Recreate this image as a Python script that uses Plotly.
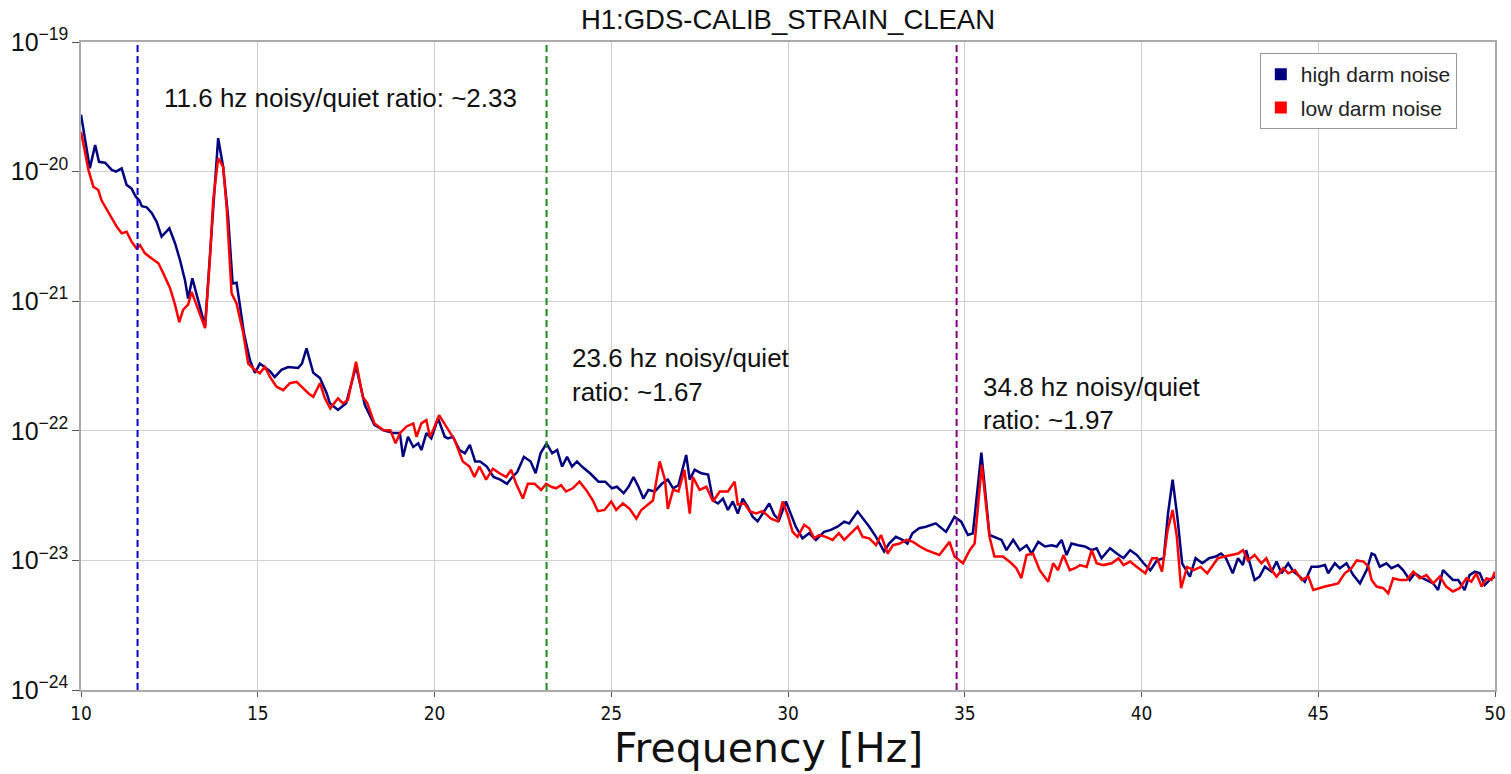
import math
import plotly.graph_objects as go

title_text = "H1:GDS-CALIB_STRAIN_CLEAN"
x_label = "Frequency [Hz]"
series_names = ["high darm noise", "low darm noise"]

freq_high = [10.0, 10.25, 10.4, 10.51, 10.68, 10.87, 10.99, 11.15, 11.29, 11.43, 11.55, 11.65, 11.72, 11.86,
             12.0, 12.14, 12.28, 12.37, 12.5, 12.66, 12.8, 12.94, 13.03, 13.15, 13.24, 13.36, 13.51, 13.69,
             13.88, 14.02, 14.16, 14.29, 14.4, 14.5, 14.61, 14.78, 14.92, 15.06, 15.2, 15.34, 15.48, 15.67,
             15.86, 16.14, 16.25, 16.38, 16.57, 16.76, 16.95, 17.04, 17.27, 17.5, 17.78, 18.03, 18.3, 18.56,
             18.84, 19.02, 19.11, 19.25, 19.4, 19.54, 19.63, 19.77, 19.91, 20.1, 20.29, 20.38, 20.52, 20.71,
             20.86, 21.0, 21.15, 21.29, 21.48, 21.67, 21.86, 22.05, 22.2, 22.34, 22.53, 22.72, 22.86, 23.0,
             23.17, 23.33, 23.47, 23.61, 23.75, 23.89, 24.03, 24.17, 24.4, 24.64, 24.83, 25.02, 25.16, 25.35,
             25.49, 25.63, 25.77, 25.91, 26.05, 26.23, 26.43, 26.6, 26.75, 26.9, 27.12, 27.22, 27.36, 27.55,
             27.74, 27.88, 28.02, 28.16, 28.3, 28.44, 28.58, 28.72, 28.86, 29.0, 29.14, 29.28, 29.47, 29.61,
             29.75, 29.94, 30.08, 30.22, 30.41, 30.6, 30.79, 31.02, 31.21, 31.4, 31.59, 31.73, 31.97, 32.16,
             32.3, 32.49, 32.72, 32.86, 33.05, 33.24, 33.38, 33.52, 33.71, 33.9, 34.18, 34.47, 34.71, 34.9,
             35.09, 35.23, 35.47, 35.7, 35.9, 36.04, 36.18, 36.37, 36.56, 36.75, 36.89, 37.08, 37.27, 37.46,
             37.6, 37.74, 37.88, 38.02, 38.21, 38.4, 38.59, 38.73, 38.87, 39.11, 39.3, 39.49, 39.68, 39.87,
             40.06, 40.25, 40.44, 40.63, 40.75, 40.88, 41.02, 41.15, 41.37, 41.53, 41.72, 41.91, 42.1, 42.25,
             42.39, 42.58, 42.73, 42.87, 42.96, 43.06, 43.2, 43.34, 43.49, 43.68, 43.82, 43.96, 44.15, 44.3,
             44.48, 44.62, 44.81, 45.0, 45.19, 45.28, 45.47, 45.61, 45.8, 45.99, 46.18, 46.37, 46.51, 46.6,
             46.74, 46.93, 47.07, 47.26, 47.4, 47.59, 47.73, 47.87, 48.06, 48.25, 48.39, 48.53, 48.67, 48.81,
             48.96, 49.14, 49.28, 49.43, 49.57, 49.71, 49.85, 50.0]
asd_high = [2.75e-20, 1.06e-20, 1.60e-20, 1.19e-20, 1.17e-20, 1.03e-20, 1.0e-20, 1.06e-20, 7.9e-21, 7.4e-21,
            6.4e-21, 6.0e-21, 5.4e-21, 5.3e-21, 4.8e-21, 4.1e-21, 3.15e-21, 3.35e-21, 3.65e-21, 2.8e-21,
            2.08e-21, 1.46e-21, 1.05e-21, 1.5e-21, 1.22e-21, 9.4e-22, 6.4e-22, 3.3e-21, 1.81e-20, 1.09e-20,
            4.5e-21, 1.37e-21, 1.39e-21, 9.1e-22, 5.65e-22, 3.5e-22, 2.8e-22, 3.3e-22, 3.1e-22, 2.9e-22,
            2.6e-22, 2.95e-22, 3.1e-22, 3.05e-22, 3.3e-22, 4.33e-22, 2.8e-22, 2.55e-22, 1.95e-22, 1.63e-22,
            1.45e-22, 1.63e-22, 3.15e-22, 1.58e-22, 1.11e-22, 1.01e-22, 9.6e-23, 9.6e-23, 6.3e-23, 9.0e-23,
            7.5e-23, 8.0e-23, 7.1e-23, 9.6e-23, 8.75e-23, 1.25e-22, 9.0e-23, 8.75e-23, 9.0e-23, 7.1e-23,
            6.7e-23, 7.8e-23, 5.8e-23, 5.8e-23, 5.3e-23, 4.4e-23, 4.2e-23, 3.9e-23, 4.4e-23, 4.8e-23,
            6.3e-23, 5.8e-23, 4.7e-23, 6.7e-23, 8.0e-23, 6.7e-23, 7.1e-23, 5.3e-23, 6.3e-23, 5.3e-23,
            5.8e-23, 5.3e-23, 4.7e-23, 4.05e-23, 4.05e-23, 3.6e-23, 3.7e-23, 3.3e-23, 3.7e-23, 4.4e-23,
            3.7e-23, 3.0e-23, 3.5e-23, 3.4e-23, 3.9e-23, 4.2e-23, 3.6e-23, 3.8e-23, 6.5e-23, 4.2e-23,
            5.0e-23, 4.7e-23, 4.6e-23, 2.9e-23, 2.75e-23, 3.0e-23, 2.45e-23, 2.85e-23, 2.3e-23, 3.0e-23,
            2.6e-23, 2.17e-23, 2.0e-23, 2.3e-23, 2.75e-23, 2.25e-23, 2.05e-23, 2.85e-23, 2.3e-23, 1.82e-23,
            1.48e-23, 1.62e-23, 1.44e-23, 1.66e-23, 1.72e-23, 1.82e-23, 1.99e-23, 1.93e-23, 2.38e-23, 2.05e-23,
            1.82e-23, 1.52e-23, 1.17e-23, 1.35e-23, 1.52e-23, 1.44e-23, 1.35e-23, 1.62e-23, 1.77e-23, 1.82e-23,
            1.93e-23, 1.66e-23, 2.17e-23, 1.99e-23, 1.57e-23, 1.62e-23, 6.8e-23, 1.57e-23, 1.48e-23, 1.44e-23,
            1.2e-23, 1.44e-23, 1.2e-23, 1.31e-23, 1.13e-23, 1.39e-23, 1.28e-23, 1.31e-23, 1.28e-23, 1.44e-23,
            1.1e-23, 1.35e-23, 1.31e-23, 1.28e-23, 1.2e-23, 1.24e-23, 1.04e-23, 1.24e-23, 1.13e-23, 1.04e-23,
            1.2e-23, 1.1e-23, 9.5e-24, 8.4e-24, 1.0e-23, 1.04e-23, 2.3e-23, 4.2e-23, 2.1e-23, 9.5e-24,
            7.5e-24, 1.04e-23, 9.5e-24, 1.04e-23, 1.07e-23, 1.13e-23, 1.04e-23, 7.95e-24, 1.04e-23, 9.2e-24,
            1.2e-23, 9.5e-24, 7.06e-24, 7.5e-24, 8.94e-24, 8.18e-24, 9.8e-24, 7.95e-24, 9.5e-24, 8.18e-24,
            7.5e-24, 6.85e-24, 8.94e-24, 8.94e-24, 9.2e-24, 7.95e-24, 9.5e-24, 8.7e-24, 9.5e-24, 7.7e-24,
            6.65e-24, 8.43e-24, 1.13e-23, 1.1e-23, 8.94e-24, 9.5e-24, 8.7e-24, 9.2e-24, 8.43e-24, 7.06e-24,
            7.95e-24, 7.5e-24, 7.06e-24, 6.65e-24, 5.91e-24, 8.43e-24, 7.7e-24, 7.06e-24, 7.06e-24, 5.91e-24,
            7.7e-24, 8.18e-24, 7.95e-24, 6.45e-24, 7.06e-24, 7.5e-24]

freq_low = [10.0, 10.21, 10.35, 10.49, 10.58, 10.73, 10.87, 11.01, 11.15, 11.29, 11.43, 11.57, 11.67, 11.81,
            12.0, 12.19, 12.33, 12.52, 12.66, 12.78, 12.89, 13.03, 13.13, 13.22, 13.36, 13.51, 13.65, 13.74,
            13.88, 14.02, 14.12, 14.26, 14.4, 14.59, 14.73, 14.92, 15.06, 15.2, 15.34, 15.53, 15.72, 15.91,
            16.1, 16.24, 16.43, 16.57, 16.76, 16.9, 17.05, 17.27, 17.41, 17.55, 17.78, 17.97, 18.1, 18.3,
            18.56, 18.75, 18.9, 19.02, 19.21, 19.4, 19.49, 19.63, 19.77, 19.87, 19.96, 20.13, 20.34, 20.57,
            20.8, 20.99, 21.13, 21.27, 21.46, 21.65, 21.84, 22.03, 22.17, 22.31, 22.5, 22.64, 22.83, 23.02,
            23.16, 23.3, 23.44, 23.58, 23.72, 23.91, 24.1, 24.29, 24.48, 24.62, 24.81, 25.0, 25.14, 25.33,
            25.52, 25.71, 25.85, 26.04, 26.18, 26.37, 26.52, 26.6, 26.75, 26.9, 27.07, 27.22, 27.31, 27.5,
            27.69, 27.88, 28.07, 28.3, 28.49, 28.58, 28.77, 28.91, 29.1, 29.28, 29.52, 29.71, 29.85, 29.99,
            30.13, 30.27, 30.46, 30.6, 30.74, 30.88, 31.07, 31.26, 31.44, 31.59, 31.73, 31.97, 32.11, 32.3,
            32.49, 32.63, 32.82, 32.97, 33.16, 33.35, 33.54, 33.73, 33.92, 34.28, 34.57, 34.71, 34.95, 35.14,
            35.28, 35.48, 35.7, 35.84, 36.08, 36.32, 36.46, 36.6, 36.75, 36.93, 37.12, 37.36, 37.5, 37.64,
            37.79, 37.97, 38.12, 38.26, 38.45, 38.59, 38.73, 38.92, 39.16, 39.35, 39.49, 39.68, 39.87, 40.11,
            40.3, 40.44, 40.58, 40.74, 40.88, 41.0, 41.12, 41.29, 41.48, 41.67, 41.86, 42.16, 42.35, 42.54,
            42.73, 42.87, 43.01, 43.2, 43.39, 43.53, 43.68, 43.82, 44.01, 44.15, 44.34, 44.53, 44.72, 44.86,
            45.0, 45.19, 45.38, 45.56, 45.75, 45.94, 46.09, 46.28, 46.42, 46.51, 46.65, 46.84, 46.98, 47.12,
            47.31, 47.5, 47.69, 47.87, 48.06, 48.25, 48.44, 48.62, 48.81, 49.0, 49.19, 49.33, 49.47, 49.62,
            49.76, 49.9, 50.0]
asd_low = [2.03e-20, 1.03e-20, 7.65e-21, 7.2e-21, 6.0e-21, 5.05e-21, 4.36e-21, 3.76e-21, 3.34e-21, 3.44e-21,
           2.88e-21, 2.56e-21, 2.71e-21, 2.34e-21, 2.14e-21, 1.96e-21, 1.64e-21, 1.26e-21, 9.4e-22, 6.9e-22,
           8.6e-22, 9.4e-22, 1.18e-21, 1.02e-21, 8.1e-22, 6.2e-22, 2.2e-21, 6.0e-21, 1.27e-20, 1.09e-20,
           5.35e-21, 1.15e-21, 9.6e-22, 5.65e-22, 3.3e-22, 2.95e-22, 2.78e-22, 3.12e-22, 2.62e-22, 2.19e-22,
           2.06e-22, 2.33e-22, 2.39e-22, 2.19e-22, 1.95e-22, 1.83e-22, 2.33e-22, 1.78e-22, 1.49e-22, 1.78e-22,
           1.63e-22, 1.73e-22, 3.41e-22, 1.83e-22, 1.63e-22, 1.14e-22, 1.01e-22, 1.01e-22, 8.0e-23, 9.6e-23,
           1.08e-22, 1.14e-22, 9.0e-23, 1.14e-22, 1.21e-22, 9.0e-23, 1.01e-22, 1.32e-22, 1.08e-22, 8.5e-23,
           5.8e-23, 5.3e-23, 4.4e-23, 5.3e-23, 4.2e-23, 5.1e-23, 4.7e-23, 4.4e-23, 5.0e-23, 3.9e-23,
           3.0e-23, 3.9e-23, 3.9e-23, 3.5e-23, 3.9e-23, 3.7e-23, 3.6e-23, 3.8e-23, 3.4e-23, 3.6e-23,
           4.05e-23, 3.5e-23, 2.9e-23, 2.4e-23, 2.45e-23, 2.85e-23, 2.45e-23, 2.75e-23, 2.5e-23, 2.1e-23,
           2.45e-23, 2.7e-23, 2.9e-23, 5.8e-23, 4.2e-23, 2.5e-23, 3.5e-23, 3.4e-23, 5.0e-23, 2.3e-23,
           4.4e-23, 3.5e-23, 3.7e-23, 2.85e-23, 3.4e-23, 3.4e-23, 4.05e-23, 2.7e-23, 2.75e-23, 2.4e-23,
           2.3e-23, 2.4e-23, 2.1e-23, 2.0e-23, 2.85e-23, 2.25e-23, 1.66e-23, 1.52e-23, 1.88e-23, 1.77e-23,
           1.48e-23, 1.57e-23, 1.52e-23, 1.44e-23, 1.62e-23, 1.44e-23, 1.57e-23, 1.82e-23, 1.52e-23, 1.48e-23,
           1.31e-23, 1.57e-23, 1.13e-23, 1.31e-23, 1.35e-23, 1.44e-23, 1.39e-23, 1.28e-23, 1.2e-23, 1.1e-23,
           1.39e-23, 1.07e-23, 9.5e-24, 1.2e-23, 1.35e-23, 5.45e-23, 1.52e-23, 1.07e-23, 1.07e-23, 9.5e-24,
           8.7e-24, 7.3e-24, 1.1e-23, 1.13e-23, 8.4e-24, 6.85e-24, 9.5e-24, 8.4e-24, 1.1e-23, 8.4e-24,
           8.7e-24, 9.2e-24, 8.9e-24, 1.2e-23, 9.5e-24, 9.2e-24, 9.5e-24, 1.04e-23, 9.2e-24, 9.8e-24,
           8.9e-24, 7.95e-24, 1.04e-23, 1.04e-23, 8.2e-24, 1.72e-23, 2.45e-23, 1.52e-23, 6.1e-24, 8.9e-24,
           8.4e-24, 8.9e-24, 7.95e-24, 1.04e-23, 1.07e-23, 1.1e-23, 1.13e-23, 1.2e-23, 1.0e-23, 1.1e-23,
           9.5e-24, 1.04e-23, 8.43e-24, 7.5e-24, 8.7e-24, 7.95e-24, 8.43e-24, 7.06e-24, 7.5e-24, 5.91e-24,
           6.1e-24, 6.28e-24, 6.45e-24, 6.65e-24, 7.95e-24, 8.7e-24, 1.0e-23, 9.8e-24, 8.94e-24, 7.06e-24,
           6.28e-24, 6.1e-24, 5.57e-24, 7.28e-24, 7.06e-24, 7.06e-24, 8.18e-24, 7.28e-24, 7.7e-24, 6.65e-24,
           7.5e-24, 6.28e-24, 5.76e-24, 6.1e-24, 7.28e-24, 6.85e-24, 7.95e-24, 6.28e-24, 7.28e-24, 7.06e-24,
           8.18e-24]

vline_freqs = [11.6, 23.17, 34.77]
vline_colors = ["#0000cc", "#1a8a1a", "#800080"]
x_tick_vals = [10, 15, 20, 25, 30, 35, 40, 45, 50]
y_minor_vals = [m * 10.0 ** e for e in range(-24, -19) for m in range(2, 10)]

fig = go.Figure()
fig.add_trace(go.Scatter(x=freq_high, y=asd_high, mode="lines", line=dict(color="#00007f", width=2.5),
                         name=series_names[0], showlegend=False))
fig.add_trace(go.Scatter(x=freq_low, y=asd_low, mode="lines", line=dict(color="#ff0000", width=2.5),
                         name=series_names[1], showlegend=False))
# legend proxies (rectangles)
fig.add_trace(go.Bar(x=[None], y=[None], marker=dict(color="#00007f", line=dict(width=0)),
                     name=series_names[0], legendgroup="a"))
fig.add_trace(go.Bar(x=[None], y=[None], marker=dict(color="#ff0000", line=dict(width=0)),
                     name=series_names[1], legendgroup="b"))

for f, c in zip(vline_freqs, vline_colors):
    fig.add_shape(type="line", xref="x", yref="paper", x0=f, x1=f, y0=0, y1=1,
                  line=dict(color=c, width=2, dash="7px,4px"))

# minor ticks on the log y axis (shape coordinates on a log axis are in log10 units)
for v in y_minor_vals:
    lv = math.log10(v)
    fig.add_shape(type="line", xref="paper", yref="y", x0=-0.0032, x1=0, y0=lv, y1=lv,
                  line=dict(color="#666", width=1), layer="above")

ann_font = dict(family="Liberation Sans, Arial, sans-serif", size=26, color="#111")
annots = [
    ("11.6 hz noisy/quiet ratio: ~2.33", 12.29, -19.432),
    ("23.6 hz noisy/quiet", 23.83, -21.438),
    ("ratio: ~1.67", 23.83, -21.701),
    ("34.8 hz noisy/quiet", 35.47, -21.662),
    ("ratio: ~1.97", 35.47, -21.917),
]
for t, ax_, ay_ in annots:
    fig.add_annotation(x=ax_, y=ay_, xref="x", yref="y", text=t, showarrow=False,
                       xanchor="left", yanchor="middle", font=ann_font)

# x-axis label
fig.add_annotation(x=(768 - 81) / 1414, y=-(748 - 690) / 648, xref="paper", yref="paper", text=x_label,
                   showarrow=False, xanchor="center", yanchor="middle",
                   font=dict(family="DejaVu Sans", size=41, color="#111"))

fig.update_layout(
    width=1511, height=774,
    margin=dict(l=81, r=16, t=42, b=84),
    paper_bgcolor="white", plot_bgcolor="white",
    title=dict(text=title_text, x=(81 + 1495) / 2 / 1511, xanchor="center", y=1 - 19 / 774, yanchor="middle",
               font=dict(family="Liberation Sans, Arial, sans-serif", size=27.5, color="#111")),
    legend=dict(x=0.973, y=0.983, xanchor="right", yanchor="top", bgcolor="white",
                bordercolor="#999", borderwidth=1, traceorder="grouped", tracegroupgap=3,
                font=dict(family="Liberation Sans, Arial, sans-serif", size=21, color="#222")),
    showlegend=True,
)
fig.update_xaxes(range=[10, 50], tickvals=x_tick_vals, ticks="outside", ticklen=5, tickcolor="#555",
                 showgrid=True, gridcolor="#d0d0d0", gridwidth=1, showline=True, linecolor="#aaaaaa",
                 linewidth=1.5, mirror=True, zeroline=False, automargin=False,
                 tickfont=dict(family="DejaVu Sans Condensed, DejaVu Sans", size=19, color="#111"))
fig.update_yaxes(type="log", range=[-24, -19], tickmode="linear", tick0=0, dtick=1, exponentformat="power",
                 ticks="outside", ticklen=7, tickcolor="#555",
                 showgrid=True, gridcolor="#d0d0d0", gridwidth=1, showline=True, linecolor="#aaaaaa",
                 linewidth=1.5, mirror=True, zeroline=False, automargin=False,
                 tickfont=dict(family="Liberation Sans, Arial, sans-serif", size=20, color="#111"))

fig.write_html("out.html")
